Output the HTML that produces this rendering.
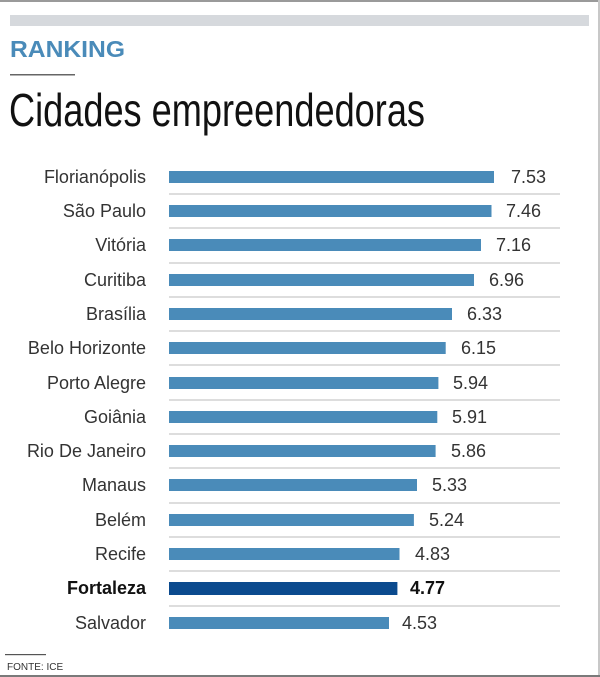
<!DOCTYPE html>
<html>
<head>
<meta charset="utf-8">
<style>
html,body{margin:0;padding:0;background:#fff;}
svg{display:block;}
</style>
</head>
<body>
<svg width="600" height="677" viewBox="0 0 600 677" xmlns="http://www.w3.org/2000/svg" font-family="'Liberation Sans', sans-serif">
<rect x="0" y="0" width="600" height="677" fill="#fff"/>
<!-- borders -->
<rect x="0" y="0" width="600" height="2" fill="#9a9a9a"/>
<rect x="598" y="0" width="2" height="677" fill="#c8c8c8"/>
<rect x="0" y="675" width="600" height="2" fill="#7a7a7a"/>
<!-- banner -->
<rect x="10" y="15" width="579" height="11" fill="#d6d9dd"/>
<!-- header -->
<text x="10" y="57" font-size="23" font-weight="bold" fill="#4a8bb9" textLength="115" lengthAdjust="spacingAndGlyphs">RANKING</text>
<rect x="10" y="74" width="65" height="1.5" fill="#666"/>
<text x="9" y="126" font-size="46" fill="#111" textLength="416" lengthAdjust="spacingAndGlyphs">Cidades empreendedoras</text>

<!-- separators -->
<g fill="#dddddd">
<rect x="169" y="193" width="391" height="2"/>
<rect x="169" y="227" width="391" height="2"/>
<rect x="169" y="262" width="391" height="2"/>
<rect x="169" y="296" width="391" height="2"/>
<rect x="169" y="330" width="391" height="2"/>
<rect x="169" y="364" width="391" height="2"/>
<rect x="169" y="399" width="391" height="2"/>
<rect x="169" y="433" width="391" height="2"/>
<rect x="169" y="467" width="391" height="2"/>
<rect x="169" y="502" width="391" height="2"/>
<rect x="169" y="536" width="391" height="2"/>
<rect x="169" y="570" width="391" height="2"/>
<rect x="169" y="605" width="391" height="2"/>
</g>

<!-- bars -->
<g fill="#4a8bb9">
<rect x="169" y="171" width="325" height="12"/>
<rect x="169" y="205" width="322.5" height="12"/>
<rect x="169" y="239" width="312" height="12"/>
<rect x="169" y="274" width="305" height="12"/>
<rect x="169" y="308" width="283" height="12"/>
<rect x="169" y="342" width="276.7" height="12"/>
<rect x="169" y="377" width="269.4" height="12"/>
<rect x="169" y="411" width="268.3" height="12"/>
<rect x="169" y="445" width="266.6" height="12"/>
<rect x="169" y="479" width="248" height="12"/>
<rect x="169" y="514" width="244.9" height="12"/>
<rect x="169" y="548" width="230.5" height="12"/>
<rect x="169" y="617" width="220" height="12"/>
</g>
<rect x="169" y="582" width="228.4" height="13" fill="#0b4a8e"/>

<!-- labels -->
<g font-size="18" fill="#333" text-anchor="end">
<text x="146" y="183">Florianópolis</text>
<text x="146" y="217">São Paulo</text>
<text x="146" y="251">Vitória</text>
<text x="146" y="286">Curitiba</text>
<text x="146" y="320">Brasília</text>
<text x="146" y="354">Belo Horizonte</text>
<text x="146" y="389">Porto Alegre</text>
<text x="146" y="423">Goiânia</text>
<text x="146" y="457">Rio De Janeiro</text>
<text x="146" y="491">Manaus</text>
<text x="146" y="526">Belém</text>
<text x="146" y="560">Recife</text>
<text x="146" y="594" font-weight="bold" fill="#111">Fortaleza</text>
<text x="146" y="629">Salvador</text>
</g>

<!-- values -->
<g font-size="18" fill="#333">
<text x="511" y="183">7.53</text>
<text x="506" y="217">7.46</text>
<text x="496" y="251">7.16</text>
<text x="489" y="286">6.96</text>
<text x="467" y="320">6.33</text>
<text x="461" y="354">6.15</text>
<text x="453" y="389">5.94</text>
<text x="452" y="423">5.91</text>
<text x="451" y="457">5.86</text>
<text x="432" y="491">5.33</text>
<text x="429" y="526">5.24</text>
<text x="415" y="560">4.83</text>
<text x="410" y="594" font-weight="bold" fill="#111">4.77</text>
<text x="402" y="629">4.53</text>
</g>

<!-- footer -->
<rect x="5" y="654" width="41" height="1.2" fill="#555"/>
<text x="7" y="670" font-size="10" fill="#333">FONTE: ICE</text>
</svg>
</body>
</html>
